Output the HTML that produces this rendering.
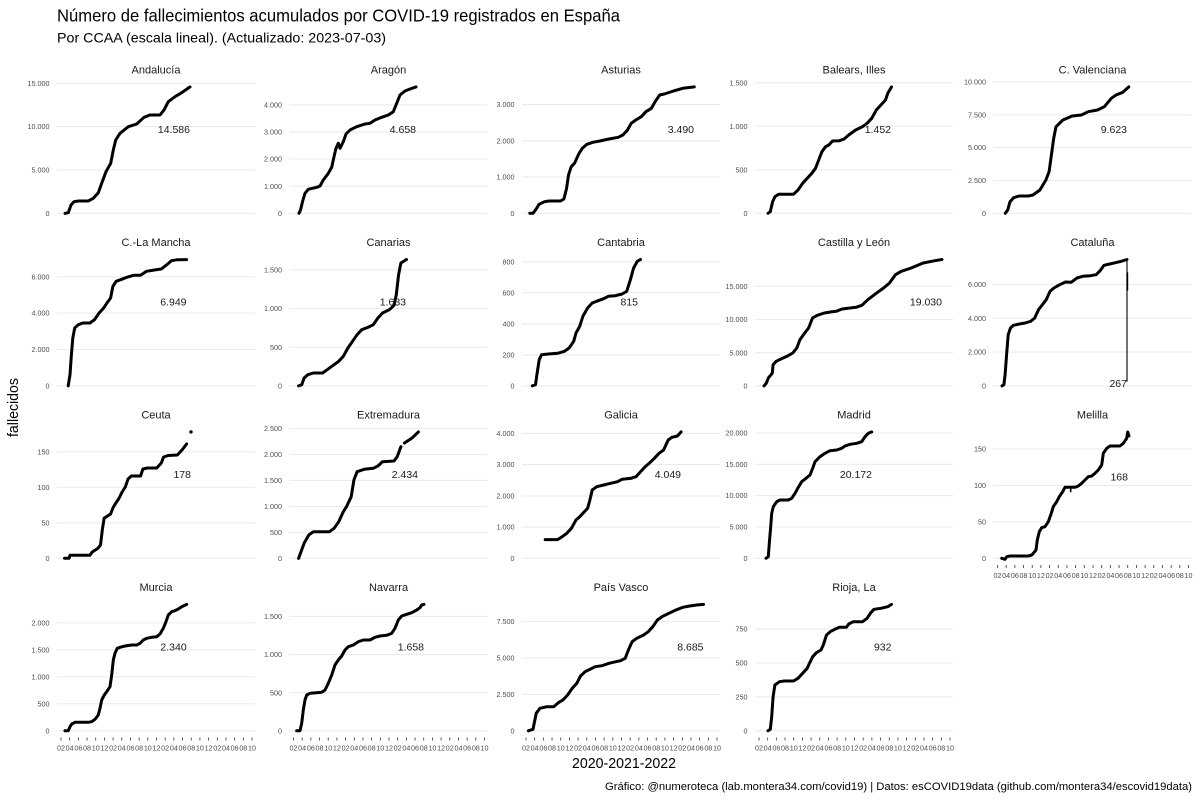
<!DOCTYPE html>
<html><head><meta charset="utf-8">
<style>
html,body{margin:0;padding:0;background:#fff}
svg{display:block}
text{font-family:"Liberation Sans",sans-serif}
</style></head><body>
<svg width="1200" height="800" viewBox="0 0 1200 800" xmlns="http://www.w3.org/2000/svg">
<rect width="1200" height="800" fill="#fff"/>
<text x="57" y="21.7" font-size="17.5" fill="#000" textLength="563" lengthAdjust="spacingAndGlyphs">Número de fallecimientos acumulados por COVID-19 registrados en España</text>
<text x="57" y="42.5" font-size="14" fill="#000" textLength="329" lengthAdjust="spacingAndGlyphs">Por CCAA (escala lineal). (Actualizado: 2023-07-03)</text>

<g stroke="#ebebeb" stroke-width="1.1" fill="none">
<path d="M57 213.3H255M57 170H255M57 126.6H255M57 83.3H255"/>
<path d="M289.5 213.3H487.5M289.5 186.2H487.5M289.5 159H487.5M289.5 131.9H487.5M289.5 104.8H487.5"/>
<path d="M522 213.3H720M522 177.1H720M522 140.9H720M522 104.6H720"/>
<path d="M755 213.3H953M755 169.8H953M755 126.2H953M755 82.7H953"/>
<path d="M993.5 213.3H1191.5M993.5 180.5H1191.5M993.5 147.6H1191.5M993.5 114.8H1191.5M993.5 81.9H1191.5"/>
<path d="M57 385.9H255M57 349.5H255M57 313.1H255M57 276.8H255"/>
<path d="M289.5 385.9H487.5M289.5 347.2H487.5M289.5 308.5H487.5M289.5 269.8H487.5"/>
<path d="M522 385.9H720M522 354.9H720M522 323.9H720M522 292.8H720M522 261.8H720"/>
<path d="M755 385.9H953M755 352.7H953M755 319.5H953M755 286.3H953"/>
<path d="M993.5 385.9H1191.5M993.5 352H1191.5M993.5 318.2H1191.5M993.5 284.3H1191.5"/>
<path d="M57 558.3H255M57 522.8H255M57 487.3H255M57 451.8H255"/>
<path d="M289.5 558.3H487.5M289.5 532.3H487.5M289.5 506.4H487.5M289.5 480.4H487.5M289.5 454.4H487.5M289.5 428.5H487.5"/>
<path d="M522 558.3H720M522 527.1H720M522 495.9H720M522 464.6H720M522 433.4H720"/>
<path d="M755 558.3H953M755 527H953M755 495.6H953M755 464.3H953M755 433H953"/>
<path d="M993.5 558.3H1191.5M993.5 521.9H1191.5M993.5 485.5H1191.5M993.5 449.1H1191.5"/>
<path d="M57 730.8H255M57 703.8H255M57 676.8H255M57 649.8H255M57 622.8H255"/>
<path d="M289.5 730.8H487.5M289.5 692.7H487.5M289.5 654.6H487.5M289.5 616.4H487.5"/>
<path d="M522 730.8H720M522 694.4H720M522 658H720M522 621.6H720"/>
<path d="M755 730.8H953M755 696.9H953M755 663H953M755 629.1H953"/>
</g>

<g font-size="7.2" fill="#4d4d4d" text-anchor="end">
<text x="49.5" y="215.9">0</text><text x="49.5" y="172.6">5.000</text><text x="49.5" y="129.2">10.000</text><text x="49.5" y="85.9">15.000</text>
<text x="282" y="215.9">0</text><text x="282" y="188.8">1.000</text><text x="282" y="161.6">2.000</text><text x="282" y="134.5">3.000</text><text x="282" y="107.4">4.000</text>
<text x="514.5" y="215.9">0</text><text x="514.5" y="179.7">1.000</text><text x="514.5" y="143.5">2.000</text><text x="514.5" y="107.2">3.000</text>
<text x="747.5" y="215.9">0</text><text x="747.5" y="172.4">500</text><text x="747.5" y="128.8">1.000</text><text x="747.5" y="85.3">1.500</text>
<text x="986" y="215.9">0</text><text x="986" y="183.1">2.500</text><text x="986" y="150.2">5.000</text><text x="986" y="117.4">7.500</text><text x="986" y="84.5">10.000</text>
<text x="49.5" y="388.5">0</text><text x="49.5" y="352.1">2.000</text><text x="49.5" y="315.7">4.000</text><text x="49.5" y="279.4">6.000</text>
<text x="282" y="388.5">0</text><text x="282" y="349.8">500</text><text x="282" y="311.1">1.000</text><text x="282" y="272.4">1.500</text>
<text x="514.5" y="388.5">0</text><text x="514.5" y="357.5">200</text><text x="514.5" y="326.5">400</text><text x="514.5" y="295.4">600</text><text x="514.5" y="264.4">800</text>
<text x="747.5" y="388.5">0</text><text x="747.5" y="355.3">5.000</text><text x="747.5" y="322.1">10.000</text><text x="747.5" y="288.9">15.000</text>
<text x="986" y="388.5">0</text><text x="986" y="354.6">2.000</text><text x="986" y="320.8">4.000</text><text x="986" y="286.9">6.000</text>
<text x="49.5" y="560.9">0</text><text x="49.5" y="525.4">50</text><text x="49.5" y="489.9">100</text><text x="49.5" y="454.4">150</text>
<text x="282" y="560.9">0</text><text x="282" y="534.9">500</text><text x="282" y="509">1.000</text><text x="282" y="483">1.500</text><text x="282" y="457">2.000</text><text x="282" y="431.1">2.500</text>
<text x="514.5" y="560.9">0</text><text x="514.5" y="529.7">1.000</text><text x="514.5" y="498.5">2.000</text><text x="514.5" y="467.2">3.000</text><text x="514.5" y="436">4.000</text>
<text x="747.5" y="560.9">0</text><text x="747.5" y="529.6">5.000</text><text x="747.5" y="498.2">10.000</text><text x="747.5" y="466.9">15.000</text><text x="747.5" y="435.6">20.000</text>
<text x="986" y="560.9">0</text><text x="986" y="524.5">50</text><text x="986" y="488.1">100</text><text x="986" y="451.7">150</text>
<text x="49.5" y="733.4">0</text><text x="49.5" y="706.4">500</text><text x="49.5" y="679.4">1.000</text><text x="49.5" y="652.4">1.500</text><text x="49.5" y="625.4">2.000</text>
<text x="282" y="733.4">0</text><text x="282" y="695.3">500</text><text x="282" y="657.2">1.000</text><text x="282" y="619">1.500</text>
<text x="514.5" y="733.4">0</text><text x="514.5" y="697">2.500</text><text x="514.5" y="660.6">5.000</text><text x="514.5" y="624.2">7.500</text>
<text x="747.5" y="733.4">0</text><text x="747.5" y="699.5">250</text><text x="747.5" y="665.6">500</text><text x="747.5" y="631.7">750</text>
</g>

<g font-size="11" fill="#1a1a1a" text-anchor="middle">
<text x="156" y="73.3">Andalucía</text>
<text x="388.5" y="73.3">Aragón</text>
<text x="621" y="73.3">Asturias</text>
<text x="854" y="73.3">Balears, Illes</text>
<text x="1092.5" y="73.3">C. Valenciana</text>
<text x="156" y="245.9">C.-La Mancha</text>
<text x="388.5" y="245.9">Canarias</text>
<text x="621" y="245.9">Cantabria</text>
<text x="854" y="245.9">Castilla y León</text>
<text x="1092.5" y="245.9">Cataluña</text>
<text x="156" y="418.3">Ceuta</text>
<text x="388.5" y="418.3">Extremadura</text>
<text x="621" y="418.3">Galicia</text>
<text x="854" y="418.3">Madrid</text>
<text x="1092.5" y="418.3">Melilla</text>
<text x="156" y="590.8">Murcia</text>
<text x="388.5" y="590.8">Navarra</text>
<text x="621" y="590.8">País Vasco</text>
<text x="854" y="590.8">Rioja, La</text>
</g>

<g fill="none" stroke="#000" stroke-width="3" stroke-linejoin="round" stroke-linecap="round">
<polyline points="65,213.3 68.3,212.7 71,205 74,201.7 78.3,201 88.3,201 93.3,198.3 98.3,192.7 101.7,183.3 106,171.7 110.7,163.3 113.3,150 115.7,140 120,133.3 128.3,126.7 136.7,124 144,117.3 150,115 160,115 164,110 168.3,101.7 175,96.7 181.7,92.7 190,86.9"/>
<polyline points="299,213.3 300.5,210 302.7,201 305,193.3 308.3,189.3 316.7,187.3 320,186 323.3,180 328.3,173.3 331.7,167.3 334,156.7 336,148.3 338.3,143.3 340,148.3 343.3,141.7 346,134 350,130 356.7,126.7 365,124 370,123.3 375,120 381.7,117.3 388.3,115 393.3,111.7 396.7,103.3 400,95 405,91 410,89 416,86.9"/>
<polyline points="529.8,213.3 533,213.3 536.2,209 539,204.3 544.5,201.7 549.1,201 560.6,201 563.9,199 566.6,188.3 568.5,175 571.2,166.7 574.5,163.3 576.8,158.3 579.1,153.3 582.3,148.3 586.9,144.3 592.9,142.3 599.8,141 609,139 618.2,137.3 622.9,135 627.5,130 631.2,123.3 635.8,120 641.3,116.7 645.9,111.7 651.4,108.3 655.1,101.7 659.7,95 664.3,94 673.5,91 682.8,88.3 694.3,86.9"/>
<polyline points="768,213.3 770.3,211.7 772.6,201.7 774.9,196.7 778.6,194.3 786.5,194.3 793.4,194.3 798,190 802.6,183.3 807.2,178.3 811.8,173.3 815.5,168.3 818.7,160 821.9,151.7 825.6,146.7 828.8,145 832.5,141 839.4,140.7 844.1,139 848.7,135 855.6,130 862.5,126.7 867.1,123.3 871.7,118.3 876.3,110 880.9,105 885.5,100 887.8,93.3 891.5,86.9"/>
<polyline points="1005.3,213.3 1007.7,210 1010,201.7 1013.6,197.7 1019.2,196 1028.4,196 1033,195 1039.9,190 1045.9,180 1049.1,171.7 1051.4,155 1053.7,138.3 1056,126.7 1062.9,120 1072.2,116 1081.4,115 1088.3,111.7 1097.5,110 1104.4,106.7 1111.3,98.3 1116,95 1122.8,92.3 1128.8,86.9"/>
<polyline points="68.2,385.9 70,374.7 71.4,354.7 72.8,338 74.7,328 78.3,324.7 82.9,323 89.9,323 94.5,319.7 99.1,313 103.7,308 106.9,303 110.6,298 112.9,286.3 116.1,281.3 120.7,279.7 126.7,277.3 133.6,275.3 140.6,275.3 146.5,271.3 154.4,270 161.3,269 166.8,264.7 171.4,260.7 177.4,259.7 186.6,259.6"/>
<polyline points="298.6,385.9 301.8,384.7 304.1,378 307.8,374.7 313.4,373 322.6,373 327.2,369.7 331.8,366.3 338.7,361.3 343.3,356.3 347.9,348 352.5,341.3 357.1,334.7 361.8,329.7 368.7,327 373.3,324.7 377.9,318 382.5,313 389.4,309.7 394,305.3 396.3,294.7 398.6,274.7 400.9,263 406.5,259.5"/>
<polyline points="532.3,385.9 535.5,384.7 536.9,374.7 539.2,359.7 541.5,354.7 548.4,354 557.6,353.3 564.5,351.3 569.1,348 573.7,341.3 576,333 579.7,326.3 582.9,316.3 587.6,308 592.2,303 598.2,300.7 603.7,298.7 608.3,296.3 615.2,295.7 622.1,294 626.7,291.3 630.4,279.7 633.6,268 637.3,261.3 640.5,259.5"/>
<polyline points="764,385.9 766.4,383 768.3,378 771.1,374.7 772.3,373 773.1,364.7 776.2,361.3 781,359 786.9,356.3 792.8,353 796.8,348 799.9,339.7 804.7,333 808.6,328 812.5,318 817.3,315.3 824.4,313 830.3,312 836.2,311.3 842.1,309 848.1,308.3 856,307.3 861.9,305.3 867.8,299.7 875.7,293.7 883.6,288 889.5,283 895.4,274.7 901.3,271.3 911.2,268 923.1,263 934.9,260.7 942,259.5"/>
<polyline points="1002,385.9 1003.9,384.7 1005.1,374.7 1006.6,354.7 1008.2,334.7 1010.5,328 1013.5,325.3 1019.3,324 1025.1,323 1030.8,321.3 1034.7,318 1038.5,309.7 1042.4,304.7 1046.2,299.7 1050.1,291.3 1053.9,288 1059.7,284.7 1065.5,282 1071.2,282.3 1077,278 1082.8,276.3 1090.5,275.7 1096.2,274.7 1100.1,270.7 1104,265.3 1109.7,264 1115.5,262.7 1121.2,261.3 1127,259.5"/>
<path d="M1127 259.5V381.3" stroke-width="1.1"/>
<path d="M1127.3 273V290" stroke-width="1.8"/>
<polyline points="64.5,558.3 69.1,558.3 70,555.2 89.9,555.2 92.2,552 97.7,548.5 100.5,545 102.3,530 104.1,518.3 106,517 110.6,514 112.9,508 115.2,504 118.9,498.5 122.1,492 125.3,487 128.1,479 131.3,476 140.6,476 142.9,469 147.5,468 156.7,468 161.3,463 163.6,457 168.2,455.5 177.4,455 182,450 186.6,444"/>
<polyline points="298.6,558.3 304.1,543.3 308.8,535 313.4,531.7 329.5,531.7 334.1,528.3 338.7,521.7 343.3,511.7 346.5,506.7 351.2,496.7 353.9,480 357.1,471.7 364.1,469.3 373.3,468.3 377.9,466 382.5,461.7 394,461 397.2,456.7 400.9,446.7"/>
<polyline points="404.5,443 412.4,437.7 418.4,431.9"/>
<polyline points="545.2,539.6 557.6,539.6 562.2,536.7 566.8,533.3 571.4,528.3 576,520 579.7,516.7 582.9,513.3 587.6,508.3 589.9,500 592.2,490 596.8,486.7 603.7,485 610.6,483.3 617.5,481.7 622.1,479.3 631.3,478.3 636,476.7 640.5,471.7 645.2,466.7 649.8,462.7 654.4,458.3 659,453.3 663.6,450 668.2,440 671.9,437.3 677.4,436 681.1,431.9"/>
<polyline points="766,558.3 768.3,556.7 769.3,543.3 770.7,526.7 771.7,513.3 773.3,506.7 776.7,501.7 780,500 788.3,500 791.7,498.3 795,493.3 798.3,487.3 801.7,481.7 806,478.3 810,475 812.7,468.3 815,461.7 820,456.7 825,453.3 830,450.7 836.7,450 841.7,448.3 845,446 850,444.3 856.7,443.3 861.7,441.7 865,436.7 868.3,433.3 871.7,431.9"/>
<polyline points="1001.7,558.3 1005,559.3 1006.7,556.7 1010,556 1028.3,556 1031.7,555 1033.3,553.3 1036,550 1037.3,540 1039.3,531.7 1041.7,527.7 1045,526.7 1048.3,521.7 1050.7,515 1053.3,506.7 1056.7,501.7 1059.3,496.7 1062.7,491.7 1065,487.3 1069.3,487.3 1075,487.3 1078.3,486 1081.7,483.3 1085,480 1088.3,476.7 1091.7,476 1095,473.3 1098.3,470 1101.7,465 1103.3,453.3 1106.7,448.3 1110,446 1120,446 1123.3,443.3 1126.7,438.3 1127.7,432 1129,436"/>
<path d="M1070.7 487.3V491.5" stroke-width="1.6"/>
<polyline points="65,730.8 68.3,730.7 70,726.7 71.7,724 75,722.3 80,722.3 88.3,722.3 91.7,721.7 95,719.3 98.3,715 100,708.3 101.7,700 104.3,695 106.7,691.7 110,686.7 111.7,675 113.3,660 115,653.3 117.3,648.3 120,647.3 125,646 131.7,645 136.7,645 140,643.3 143.3,640 146.7,638.3 151.7,637.3 156.7,636.7 160,634 163.3,628.3 166,621.7 168.3,615 171.7,611.7 175,610.7 178.3,609 181.7,606.7 186.7,604.4"/>
<polyline points="296.7,730.8 300,730.7 301.7,723.3 303.3,710 305,700 306.7,695 310,693.3 316.7,692.7 321.7,692.3 325,690 328.3,683.3 331.7,675 335,665 338.3,660 341.7,656 345,650 348.3,646.7 353.3,645 358.3,641.7 363.3,640 370,640 375,637.3 380,636 386.7,635.3 391.7,633.3 395,628.3 398.3,620 401.7,616 406.7,614.3 411.7,612.7 416.7,610 420,607.7 421.7,605 424,604.4"/>
<polyline points="528.4,730.8 533,729.3 536.2,713.3 539.9,708.3 546.8,706.7 553.7,706.7 558.3,702.7 562.9,700 567.6,695 572.2,688.3 576.8,683.3 580.5,676 585.1,671.7 590.6,669 595.2,666.7 602.1,665.7 609,663.3 615.9,661.7 620.6,660.7 625.2,658.3 628.4,650 632.1,641.7 636.7,638.3 643.6,635 648.2,631.7 652.8,626.7 657.4,620 662,616.7 668.9,613.3 675.9,610 682.8,607.3 689.7,606 696.6,605 703.5,604.4"/>
<polyline points="768,730.8 770.3,729.3 771.7,716.7 773.1,696.7 774.9,685 779.5,681.7 784.1,681 793.4,681 798,678.3 802.6,673.3 807.2,668.3 809.5,663.3 812.7,656.7 816.4,652.7 821,650 823.3,645 826.5,635 830.2,631.7 834.8,629.3 839.4,627.3 846.4,627.3 848.7,624 853.3,621.7 862.5,621.7 867.1,618.3 870.8,612.7 874,609.3 880.9,608.3 887.8,606.7 891.5,604.4"/>
</g>
<circle cx="191" cy="431.9" r="1.7" fill="#000"/>

<g font-size="10.5" fill="#1a1a1a" text-anchor="end">
<text x="190" y="132.8">14.586</text>
<text x="416" y="132.8">4.658</text>
<text x="694" y="132.8">3.490</text>
<text x="891" y="132.8">1.452</text>
<text x="1127" y="132.8">9.623</text>
<text x="186.5" y="305.4">6.949</text>
<text x="406" y="305.4">1.633</text>
<text x="638" y="305.4">815</text>
<text x="942" y="305.4">19.030</text>
<text x="1127" y="386.8">267</text>
<text x="191" y="477.8">178</text>
<text x="418" y="477.8">2.434</text>
<text x="681" y="477.8">4.049</text>
<text x="872" y="477.8">20.172</text>
<text x="1128" y="480.6">168</text>
<text x="186.7" y="650.3">2.340</text>
<text x="424" y="650.3">1.658</text>
<text x="703.5" y="650.3">8.685</text>
<text x="891.5" y="650.3">932</text>
</g>

<g transform="translate(61,737.5)">
<path d="M0 0v3M8.68 0v3M17.36 0v3M26.05 0v3M34.73 0v3M43.41 0v3M52.09 0v3M60.77 0v3M69.46 0v3M78.14 0v3M86.82 0v3M95.5 0v3M104.18 0v3M112.87 0v3M121.55 0v3M130.23 0v3M138.91 0v3M147.59 0v3M156.28 0v3M164.96 0v3M173.64 0v3M182.32 0v3M191 0v3" stroke="#333" stroke-width="0.8"/>
<text y="13" font-size="7.2" fill="#4d4d4d" text-anchor="middle"><tspan x="0">02</tspan><tspan x="8.68">04</tspan><tspan x="17.36">06</tspan><tspan x="26.05">08</tspan><tspan x="34.73">10</tspan><tspan x="43.41">12</tspan><tspan x="52.09">02</tspan><tspan x="60.77">04</tspan><tspan x="69.46">06</tspan><tspan x="78.14">08</tspan><tspan x="86.82">10</tspan><tspan x="95.5">12</tspan><tspan x="104.18">02</tspan><tspan x="112.87">04</tspan><tspan x="121.55">06</tspan><tspan x="130.23">08</tspan><tspan x="138.91">10</tspan><tspan x="147.59">12</tspan><tspan x="156.28">02</tspan><tspan x="164.96">04</tspan><tspan x="173.64">06</tspan><tspan x="182.32">08</tspan><tspan x="191">10</tspan></text>
</g>
<g transform="translate(293.5,737.5)">
<path d="M0 0v3M8.68 0v3M17.36 0v3M26.05 0v3M34.73 0v3M43.41 0v3M52.09 0v3M60.77 0v3M69.46 0v3M78.14 0v3M86.82 0v3M95.5 0v3M104.18 0v3M112.87 0v3M121.55 0v3M130.23 0v3M138.91 0v3M147.59 0v3M156.28 0v3M164.96 0v3M173.64 0v3M182.32 0v3M191 0v3" stroke="#333" stroke-width="0.8"/>
<text y="13" font-size="7.2" fill="#4d4d4d" text-anchor="middle"><tspan x="0">02</tspan><tspan x="8.68">04</tspan><tspan x="17.36">06</tspan><tspan x="26.05">08</tspan><tspan x="34.73">10</tspan><tspan x="43.41">12</tspan><tspan x="52.09">02</tspan><tspan x="60.77">04</tspan><tspan x="69.46">06</tspan><tspan x="78.14">08</tspan><tspan x="86.82">10</tspan><tspan x="95.5">12</tspan><tspan x="104.18">02</tspan><tspan x="112.87">04</tspan><tspan x="121.55">06</tspan><tspan x="130.23">08</tspan><tspan x="138.91">10</tspan><tspan x="147.59">12</tspan><tspan x="156.28">02</tspan><tspan x="164.96">04</tspan><tspan x="173.64">06</tspan><tspan x="182.32">08</tspan><tspan x="191">10</tspan></text>
</g>
<g transform="translate(526,737.5)">
<path d="M0 0v3M8.68 0v3M17.36 0v3M26.05 0v3M34.73 0v3M43.41 0v3M52.09 0v3M60.77 0v3M69.46 0v3M78.14 0v3M86.82 0v3M95.5 0v3M104.18 0v3M112.87 0v3M121.55 0v3M130.23 0v3M138.91 0v3M147.59 0v3M156.28 0v3M164.96 0v3M173.64 0v3M182.32 0v3M191 0v3" stroke="#333" stroke-width="0.8"/>
<text y="13" font-size="7.2" fill="#4d4d4d" text-anchor="middle"><tspan x="0">02</tspan><tspan x="8.68">04</tspan><tspan x="17.36">06</tspan><tspan x="26.05">08</tspan><tspan x="34.73">10</tspan><tspan x="43.41">12</tspan><tspan x="52.09">02</tspan><tspan x="60.77">04</tspan><tspan x="69.46">06</tspan><tspan x="78.14">08</tspan><tspan x="86.82">10</tspan><tspan x="95.5">12</tspan><tspan x="104.18">02</tspan><tspan x="112.87">04</tspan><tspan x="121.55">06</tspan><tspan x="130.23">08</tspan><tspan x="138.91">10</tspan><tspan x="147.59">12</tspan><tspan x="156.28">02</tspan><tspan x="164.96">04</tspan><tspan x="173.64">06</tspan><tspan x="182.32">08</tspan><tspan x="191">10</tspan></text>
</g>
<g transform="translate(759,737.5)">
<path d="M0 0v3M8.68 0v3M17.36 0v3M26.05 0v3M34.73 0v3M43.41 0v3M52.09 0v3M60.77 0v3M69.46 0v3M78.14 0v3M86.82 0v3M95.5 0v3M104.18 0v3M112.87 0v3M121.55 0v3M130.23 0v3M138.91 0v3M147.59 0v3M156.28 0v3M164.96 0v3M173.64 0v3M182.32 0v3M191 0v3" stroke="#333" stroke-width="0.8"/>
<text y="13" font-size="7.2" fill="#4d4d4d" text-anchor="middle"><tspan x="0">02</tspan><tspan x="8.68">04</tspan><tspan x="17.36">06</tspan><tspan x="26.05">08</tspan><tspan x="34.73">10</tspan><tspan x="43.41">12</tspan><tspan x="52.09">02</tspan><tspan x="60.77">04</tspan><tspan x="69.46">06</tspan><tspan x="78.14">08</tspan><tspan x="86.82">10</tspan><tspan x="95.5">12</tspan><tspan x="104.18">02</tspan><tspan x="112.87">04</tspan><tspan x="121.55">06</tspan><tspan x="130.23">08</tspan><tspan x="138.91">10</tspan><tspan x="147.59">12</tspan><tspan x="156.28">02</tspan><tspan x="164.96">04</tspan><tspan x="173.64">06</tspan><tspan x="182.32">08</tspan><tspan x="191">10</tspan></text>
</g>
<g transform="translate(997.5,565)">
<path d="M0 0v3M8.68 0v3M17.36 0v3M26.05 0v3M34.73 0v3M43.41 0v3M52.09 0v3M60.77 0v3M69.46 0v3M78.14 0v3M86.82 0v3M95.5 0v3M104.18 0v3M112.87 0v3M121.55 0v3M130.23 0v3M138.91 0v3M147.59 0v3M156.28 0v3M164.96 0v3M173.64 0v3M182.32 0v3M191 0v3" stroke="#333" stroke-width="0.8"/>
<text y="13" font-size="7.2" fill="#4d4d4d" text-anchor="middle"><tspan x="0">02</tspan><tspan x="8.68">04</tspan><tspan x="17.36">06</tspan><tspan x="26.05">08</tspan><tspan x="34.73">10</tspan><tspan x="43.41">12</tspan><tspan x="52.09">02</tspan><tspan x="60.77">04</tspan><tspan x="69.46">06</tspan><tspan x="78.14">08</tspan><tspan x="86.82">10</tspan><tspan x="95.5">12</tspan><tspan x="104.18">02</tspan><tspan x="112.87">04</tspan><tspan x="121.55">06</tspan><tspan x="130.23">08</tspan><tspan x="138.91">10</tspan><tspan x="147.59">12</tspan><tspan x="156.28">02</tspan><tspan x="164.96">04</tspan><tspan x="173.64">06</tspan><tspan x="182.32">08</tspan><tspan x="191">10</tspan></text>
</g>

<text transform="translate(18,407.5) rotate(-90)" text-anchor="middle" font-size="15" fill="#000" textLength="59" lengthAdjust="spacingAndGlyphs">fallecidos</text>
<text x="624" y="768" text-anchor="middle" font-size="15" fill="#000" textLength="104" lengthAdjust="spacingAndGlyphs">2020-2021-2022</text>
<text x="1192" y="790" text-anchor="end" font-size="11" fill="#000" textLength="587" lengthAdjust="spacingAndGlyphs">Gráfico: @numeroteca (lab.montera34.com/covid19) | Datos: esCOVID19data (github.com/montera34/escovid19data)</text>
</svg>
</body></html>
